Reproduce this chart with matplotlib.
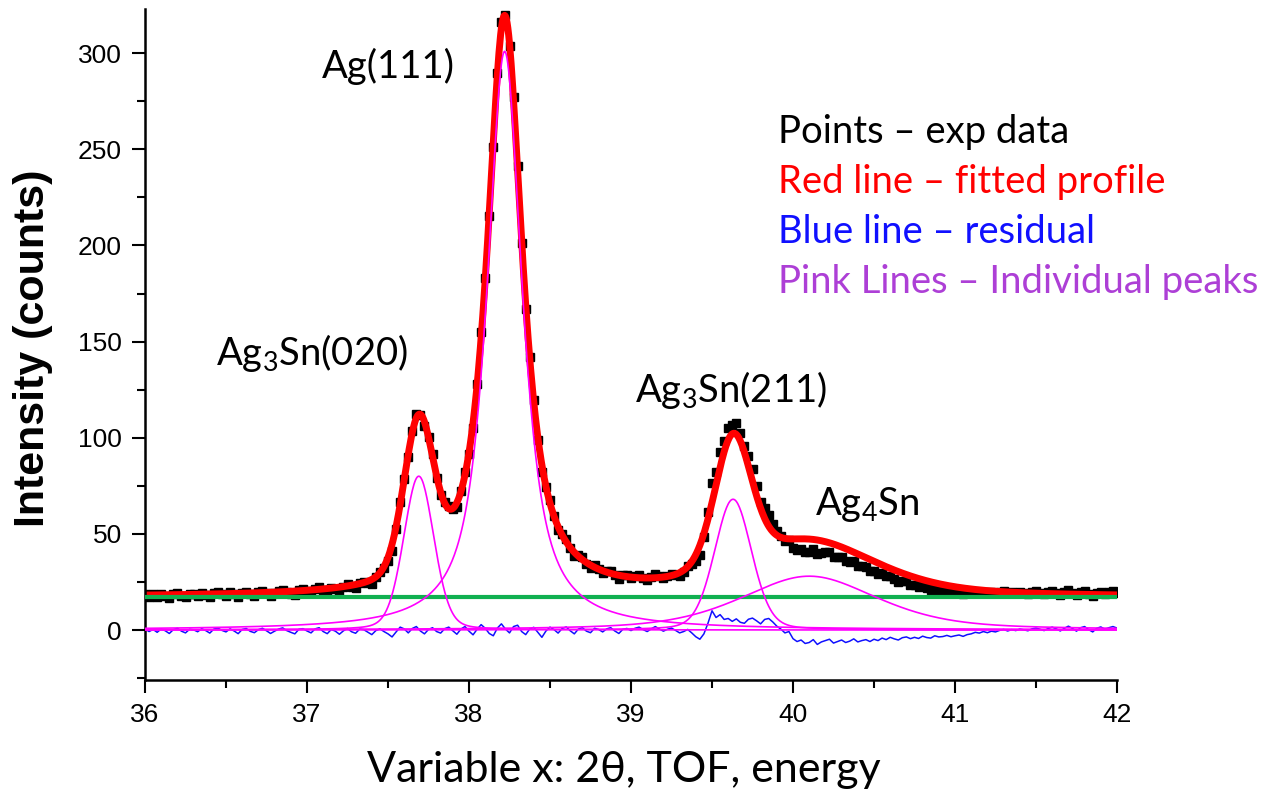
import numpy as np
import matplotlib
matplotlib.use("Agg")
import matplotlib.pyplot as plt

# ---- fitted peak parameters (pseudo-Voigt) ----
peak_names = ["Ag3Sn(020)", "Ag(111)", "Ag3Sn(211)", "Ag4Sn"]
peak_centers = [37.69, 38.22, 39.63, 40.10]
peak_heights = [80.0, 301.0, 68.0, 28.0]
peak_fwhm = [0.22, 0.26, 0.27, 1.00]
peak_eta = [0.20, 0.85, 0.20, 0.50]   # Lorentzian fraction
background = 17.0

# ---- measured points: 2theta step and residual (exp - fit) ----
x_start, x_step = 36.0, 0.025
residual = [
    0.5, -0.8, 0.3, -1.2, 0.6, -0.4, -1.8, 0.2, 0.9, -0.6, -1.5, 0.4, 0.1, -0.9, 0.7, -0.3, -1.6, 0.5, 1.0, -0.2,
    -1.0, 0.6, -0.5, -1.9, 0.3, 0.8, -0.7, -1.4, 0.2, 0.9, -0.4, -1.8, -0.6, 0.5, 1.1, -0.3, -1.2, -2.0, 0.4, 0.7,
    -0.5, -1.5, 0.6, 1.2, -0.8, -1.9, 0.3, -0.6, -2.2, -0.4, 0.8, -0.9, -1.7, 0.5, 0.2, -1.1, -2.4, -0.3, 0.6, -0.8,
    -2.0, -3.6, -1.0, 1.5, 0.6, -1.5, 0.8, 1.8, -0.5, -2.0, 0.3, 1.2, -0.8, -1.6, 0.7, 1.5, -0.4, -2.2, 0.5, 1.8,
    -0.6, -2.5, 0.4, 2.8, 0.9, -1.8, -3.0, 1.0, 3.2, 0.5, -1.5, 1.8, 2.5, -0.8, -2.4, 0.6, 1.4, -1.2, -3.8, -0.5,
    1.5, 0.2, -1.6, 0.8, 1.6, -0.4, -2.0, 0.5, 1.2, -0.6, -1.4, 0.9, 0.3, -1.0, 0.6, 1.2, -0.5, -1.8, 0.4, 0.8,
    -0.3, 0.9, 1.5, 0.2, -0.8, 0.6, 1.8, 0.5, -0.6, 0.4, 1.0, -0.2, -1.5, -0.8, 0.3, -1.5, -3.5, -4.8, -2.0, 3.5,
    10.0, 6.5, 8.0, 5.5, 6.0, 4.5, 5.8, 4.0, 3.5, 5.6, 6.2, 4.8, 3.2, 5.5, 6.0, 4.2, 2.0, 0.5, -1.5, -0.8,
    -4.5, -6.0, -5.2, -7.0, -6.5, -5.0, -7.5, -6.2, -5.5, -4.8, -6.8, -6.0, -5.2, -6.5, -5.8, -4.6, -6.2, -5.5, -5.0, -6.0,
    -4.8, -5.5, -4.2, -5.0, -3.8, -4.6, -5.2, -4.0, -3.6, -4.5, -3.8, -4.4, -3.2, -3.9, -4.2, -3.0, -3.6, -3.4, -2.8, -3.5,
    -3.0, -2.6, -3.3, -2.4, -2.0, -1.2, -1.6, -0.8, -1.4, -0.6, -1.0, -0.2, 0.3, -0.5, 0.2, -0.3, 0.5, 0.1, -0.4, 0.6,
    1.0, 0.4, -0.3, 0.8, 1.5, 0.6, -0.5, 0.9, 2.0, 0.8, -0.6, 1.2, 1.8, 0.2, -1.0, 0.9, 1.6, 0.4, 1.2, 1.8,
    1.0,
]

x_ticks = [36, 37, 38, 39, 40, 41, 42]
y_ticks = [0, 50, 100, 150, 200, 250, 300]

legend_lines = [
    ("Points \u2013 exp data", "black"),
    ("Red line \u2013 fitted profile", "#ff0000"),
    ("Blue line \u2013 residual", "#1010ff"),
    ("Pink Lines \u2013 Individual peaks", "#ad3fd6"),
]


def pseudo_voigt(x, c, h, w, eta):
    d = x - c
    lor = 1.0 / (1.0 + (2.0 * d / w) ** 2)
    gau = np.exp(-4.0 * np.log(2.0) * (d / w) ** 2)
    return h * (eta * lor + (1.0 - eta) * gau)


def profile(x):
    total = np.full_like(x, background, dtype=float)
    for c, h, w, e in zip(peak_centers, peak_heights, peak_fwhm, peak_eta):
        total += pseudo_voigt(x, c, h, w, e)
    return total


resid = np.array(residual)
x_pts = x_start + x_step * np.arange(len(resid))
y_pts = profile(x_pts) + resid
x_fine = np.linspace(36.0, 42.0, 1201)

plt.rcParams["mathtext.fontset"] = "custom"
plt.rcParams["mathtext.rm"] = "Lato"
plt.rcParams["mathtext.it"] = "Lato"

W, H = 1265, 790
fig = plt.figure(figsize=(W / 100, H / 100), dpi=100)
ax = fig.add_axes([145 / W, 1 - 680 / H, (1117 - 145) / W, (680 - 9) / H])

ax.plot(x_pts, y_pts, ls="none", marker="s", ms=5.2, color="black", zorder=1)
ax.plot(x_fine, profile(x_fine), color="#ff0000", lw=5.0, zorder=2,
        solid_capstyle="butt")
ax.axhline(background, color="#10b050", lw=3.0, zorder=3)
ax.plot(x_pts, resid, color="#1010ff", lw=1.1, zorder=4)
for c, h, w, e in zip(peak_centers, peak_heights, peak_fwhm, peak_eta):
    ax.plot(x_fine, pseudo_voigt(x_fine, c, h, w, e), color="#ff00ff",
            lw=1.2, zorder=5)

ax.set_xlim(36, 42)
ax.set_ylim(-26, 323)
ax.set_xticks(x_ticks)
ax.set_yticks(y_ticks)
ax.set_xticks(np.arange(36.5, 42, 1.0), minor=True)
ax.set_yticks(np.arange(-25, 323, 50), minor=True)
for s in ("top", "right"):
    ax.spines[s].set_visible(False)
for s in ("left", "bottom"):
    ax.spines[s].set_linewidth(1.8)
ax.tick_params(which="major", length=9.5, width=1.5, direction="out",
               labelsize=19, pad=7)
ax.tick_params(which="minor", length=5.5, width=1.5, direction="out")
for lab in ax.get_xticklabels() + ax.get_yticklabels():
    lab.set_family("Liberation Sans")

# peak labels
txt = dict(family="Lato", fontsize=27.5, color="black", va="baseline",
           ha="center", zorder=6)
ax.text(37.50, (630 - 78) / 1.922, "Ag(111)", **txt)
ax.text(37.03, (630 - 365) / 1.922, "Ag$_{3}$Sn(020)", **txt)
ax.text(39.62, (630 - 402) / 1.922, "Ag$_{3}$Sn(211)", **txt)
ax.text(40.46, (630 - 515) / 1.922, "Ag$_{4}$Sn", **txt)

# key
for i, (label, col) in enumerate(legend_lines):
    fig.text(778 / W, 1 - (143 + 50 * i) / H, label, family="Lato",
             fontsize=27.5, color=col, ha="left", va="baseline")

fig.text(624 / W, 1 - 782 / H, "Variable x: 2\u03b8, TOF, energy",
         family="Lato", fontsize=31, ha="center", va="baseline")
fig.text(33 / W, 1 - 348 / H, "Intensity (counts)", family="Liberation Sans",
         fontweight="bold", fontsize=31, rotation=90, ha="center", va="center")

fig.savefig("out.png", dpi=100)
